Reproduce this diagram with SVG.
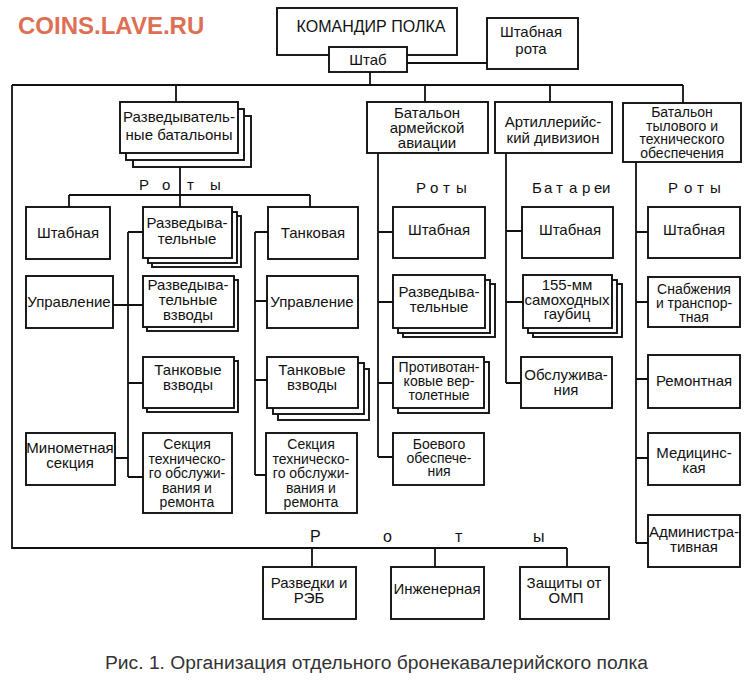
<svg xmlns="http://www.w3.org/2000/svg" width="750" height="685" viewBox="0 0 750 685">
<style>
.bx{fill:#fff;stroke:#111;stroke-width:1.9}
.ln{fill:none;stroke:#111;stroke-width:1.8}
.t{font-family:"Liberation Sans",Arial,sans-serif;font-size:15px;text-anchor:middle;fill:#111}
.s{font-size:14px}
.lb{font-family:"Liberation Sans",Arial,sans-serif;font-size:15px;fill:#111}
.wm{font-family:"Liberation Sans",Arial,sans-serif;font-size:24px;font-weight:bold;fill:#DE6F55}
.cap{font-family:"Liberation Sans",Arial,sans-serif;font-size:18px;fill:#333}
</style>
<rect width="750" height="685" fill="#fff"/>
<text class="wm" x="18" y="34">COINS.LAVE.RU</text>

<g id="connectors">
<path class="ln" d="M407 63H487 M370 72V85 M12 85H683 M176 85V102 M425 85V102 M550 85V102 M683 85V103"/>
<path class="ln" d="M12 85V548H567 M312 548V567 M435 548V567 M567 548V567"/>
<path class="ln" d="M180 167V195 M69 195H310 M69 195V207 M180 195V207 M310 195V207"/>
<path class="ln" d="M128 232V477 M128 232H143 M113 305H143 M128 383H143 M115 458H128 M128 477H143"/>
<path class="ln" d="M255 232V475 M255 232H268 M255 301H267 M255 380H267 M255 475H266"/>
<path class="ln" d="M378 153V457 M378 232H393 M378 302H393 M378 383H393 M378 457H393"/>
<path class="ln" d="M506 153V383 M506 231H522 M506 302H523 M506 383H521"/>
<path class="ln" d="M636 162V543 M636 232H648 M636 302H648 M636 379H648 M636 458H648 M636 543H648"/>
</g>

<g id="labels">
<text class="lb" x="139 162 187 210" y="190">Роты</text>
<text class="lb" x="416 430 443 456" y="193">Роты</text>
<text class="lb" x="532 544 556 569 582 594 602" y="193">Батареи</text>
<text class="lb" x="668 684 697 710" y="193">Роты</text>
<text class="lb" x="310 383 455 533" y="542" style="font-size:16px">Роты</text>
</g>

<g id="commander">
<rect class="bx" x="277" y="8" width="180" height="47"/>
<text class="t" x="371" y="32" style="font-size:16px">КОМАНДИР ПОЛКА</text>
</g>
<g id="shtab">
<rect class="bx" x="329" y="47" width="78" height="25"/>
<text class="t" x="368" y="65">Штаб</text>
</g>
<g id="shtab-rota">
<rect class="bx" x="487" y="18" width="91" height="51"/>
<text class="t" x="531" y="37">Штабная</text>
<text class="t" x="531" y="54">рота</text>
</g>

<g id="razv-bat">
<rect class="bx" x="133" y="116" width="118" height="51"/>
<rect class="bx" x="126" y="109" width="118" height="51"/>
<rect class="bx" x="120" y="102" width="118" height="51"/>
<text class="t" x="179" y="122">Разведыватель-</text>
<text class="t" x="179" y="140">ные батальоны</text>
</g>
<g id="bat-av">
<rect class="bx" x="367" y="102" width="121" height="51"/>
<text class="t" x="427" y="118">Батальон</text>
<text class="t" x="427" y="133">армейской</text>
<text class="t" x="427" y="148">авиации</text>
</g>
<g id="art-div">
<rect class="bx" x="495" y="102" width="117" height="51"/>
<text class="t" x="553" y="127">Артиллерийс-</text>
<text class="t" x="553" y="143">кий дивизион</text>
</g>
<g id="bat-tyl">
<rect class="bx" x="623" y="103" width="118" height="59"/>
<text class="t s" x="682" y="117">Батальон</text>
<text class="t s" x="682" y="130.5">тылового и</text>
<text class="t s" x="682" y="144">технического</text>
<text class="t s" x="682" y="157.5">обеспечения</text>
</g>

<g id="l-shtab">
<rect class="bx" x="26" y="207" width="84" height="52"/>
<text class="t" x="68" y="238">Штабная</text>
</g>
<g id="l-razv">
<rect class="bx" x="152" y="216" width="89" height="51"/>
<rect class="bx" x="148" y="212" width="89" height="51"/>
<rect class="bx" x="143" y="207" width="89" height="51"/>
<text class="t" x="187" y="228">Разведыва-</text>
<text class="t" x="187" y="244">тельные</text>
</g>
<g id="l-tank">
<rect class="bx" x="268" y="207" width="90" height="52"/>
<text class="t" x="313" y="238">Танковая</text>
</g>
<g id="l-upr">
<rect class="bx" x="26" y="276" width="87" height="52"/>
<text class="t" x="69" y="307">Управление</text>
</g>
<g id="l-razv-vzv">
<rect class="bx" x="147" y="280" width="91" height="51"/>
<rect class="bx" x="143" y="276" width="91" height="51"/>
<text class="t" x="188" y="290">Разведыва-</text>
<text class="t" x="188" y="305">тельные</text>
<text class="t" x="188" y="320">взводы</text>
</g>
<g id="l-tank-vzv">
<rect class="bx" x="147" y="361" width="91" height="51"/>
<rect class="bx" x="143" y="357" width="91" height="51"/>
<text class="t" x="188" y="375">Танковые</text>
<text class="t" x="188" y="390">взводы</text>
</g>
<g id="l-minomet">
<rect class="bx" x="26" y="433" width="89" height="52"/>
<text class="t" x="70" y="453">Минометная</text>
<text class="t" x="70" y="468">секция</text>
</g>
<g id="l-sekc">
<rect class="bx" x="143" y="433" width="89" height="80"/>
<text class="t s" x="187" y="449">Секция</text>
<text class="t s" x="187" y="463.5">техническо-</text>
<text class="t s" x="187" y="478">го обслужи-</text>
<text class="t s" x="187" y="492.5">вания и</text>
<text class="t s" x="187" y="507">ремонта</text>
</g>
<g id="r-upr">
<rect class="bx" x="267" y="276" width="91" height="52"/>
<text class="t" x="312" y="307">Управление</text>
</g>
<g id="r-tank-vzv">
<rect class="bx" x="278" y="369" width="91" height="51"/>
<rect class="bx" x="273" y="363" width="91" height="51"/>
<rect class="bx" x="267" y="357" width="91" height="51"/>
<text class="t" x="312" y="375">Танковые</text>
<text class="t" x="312" y="390">взводы</text>
</g>
<g id="r-sekc">
<rect class="bx" x="266" y="433" width="91" height="80"/>
<text class="t s" x="311" y="449">Секция</text>
<text class="t s" x="311" y="463.5">техническо-</text>
<text class="t s" x="311" y="478">го обслужи-</text>
<text class="t s" x="311" y="492.5">вания и</text>
<text class="t s" x="311" y="507">ремонта</text>
</g>

<g id="m-shtab">
<rect class="bx" x="393" y="207" width="92" height="51"/>
<text class="t" x="439" y="235">Штабная</text>
</g>
<g id="m-razv">
<rect class="bx" x="403" y="284" width="92" height="53"/>
<rect class="bx" x="398" y="280" width="92" height="53"/>
<rect class="bx" x="393" y="275" width="92" height="53"/>
<text class="t" x="439" y="297">Разведыва-</text>
<text class="t" x="439" y="312">тельные</text>
</g>
<g id="m-ptv">
<rect class="bx" x="398" y="362" width="91" height="51"/>
<rect class="bx" x="393" y="357" width="91" height="51"/>
<text class="t s" x="439" y="372">Противотан-</text>
<text class="t s" x="439" y="386">ковые вер-</text>
<text class="t s" x="439" y="400">толетные</text>
</g>
<g id="m-boev">
<rect class="bx" x="393" y="433" width="91" height="52"/>
<text class="t s" x="439" y="449">Боевого</text>
<text class="t s" x="439" y="462.5">обеспече-</text>
<text class="t s" x="439" y="476">ния</text>
</g>

<g id="a-shtab">
<rect class="bx" x="522" y="207" width="91" height="51"/>
<text class="t" x="570" y="235">Штабная</text>
</g>
<g id="a-155">
<rect class="bx" x="533" y="284" width="89" height="53"/>
<rect class="bx" x="528" y="280" width="89" height="53"/>
<rect class="bx" x="523" y="275" width="89" height="53"/>
<text class="t" x="567" y="290">155-мм</text>
<text class="t" x="567" y="304.5">самоходных</text>
<text class="t" x="567" y="319">гаубиц</text>
</g>
<g id="a-obsl">
<rect class="bx" x="521" y="357" width="91" height="51"/>
<text class="t" x="566" y="380">Обслужива-</text>
<text class="t" x="566" y="395">ния</text>
</g>

<g id="t-shtab">
<rect class="bx" x="648" y="207" width="92" height="51"/>
<text class="t" x="694" y="235">Штабная</text>
</g>
<g id="t-snab">
<rect class="bx" x="648" y="277" width="92" height="50"/>
<text class="t s" x="694" y="294">Снабжения</text>
<text class="t s" x="694" y="308">и транспор-</text>
<text class="t s" x="694" y="322">тная</text>
</g>
<g id="t-rem">
<rect class="bx" x="648" y="355" width="92" height="53"/>
<text class="t" x="694" y="386">Ремонтная</text>
</g>
<g id="t-med">
<rect class="bx" x="648" y="433" width="92" height="52"/>
<text class="t" x="694" y="458">Медицинс-</text>
<text class="t" x="694" y="473">кая</text>
</g>
<g id="t-adm">
<rect class="bx" x="648" y="515" width="92" height="52"/>
<text class="t" x="694" y="537">Администра-</text>
<text class="t" x="694" y="552">тивная</text>
</g>

<g id="b-razv">
<rect class="bx" x="263" y="567" width="93" height="52"/>
<text class="t" x="309" y="588">Разведки и</text>
<text class="t" x="309" y="603">РЭБ</text>
</g>
<g id="b-inzh">
<rect class="bx" x="391" y="567" width="93" height="52"/>
<text class="t" x="437" y="594">Инженерная</text>
</g>
<g id="b-zash">
<rect class="bx" x="520" y="567" width="89" height="52"/>
<text class="t" x="564" y="588">Защиты от</text>
<text class="t" x="566" y="603">ОМП</text>
</g>

<text class="cap" x="105" y="669" textLength="543" lengthAdjust="spacingAndGlyphs">Рис. 1. Организация отдельного бронекавалерийского полка</text>
</svg>
